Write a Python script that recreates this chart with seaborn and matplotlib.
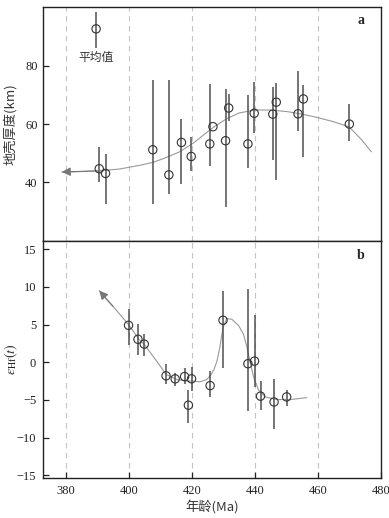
import numpy as np
import pandas as pd
import matplotlib
matplotlib.use("Agg")
import matplotlib.pyplot as plt
import seaborn as sns

# ---- panel a: crustal thickness ----
age_a = [390.6, 392.6, 407.6, 412.7, 416.7, 419.8, 425.7, 426.7, 430.7, 431.7,
         437.8, 439.8, 445.7, 446.8, 453.7, 455.4, 470.0]
thick = [44.7, 43.1, 51.2, 42.6, 53.7, 48.9, 53.2, 59.1, 54.3, 65.5,
         53.2, 63.7, 63.4, 67.5, 63.5, 68.6, 60.0]
thick_lo = [40.2, 32.6, 32.6, 36.0, 39.4, 43.9, 45.6, 59.1, 31.6, 61.0,
            45.1, 57.0, 47.7, 40.8, 57.6, 48.6, 54.2]
thick_hi = [52.2, 49.7, 75.1, 75.1, 61.6, 55.4, 73.7, 59.1, 72.0, 70.3,
            70.0, 74.5, 72.6, 74.2, 78.0, 73.4, 66.8]

# mean value marker
mean_age = [389.6]
mean_thick = [92.6]
mean_lo = [86.0]
mean_hi = [98.3]

# trend curve, first point is arrow tip
curve_a_x = [378.7, 383.0, 391.0, 397.0, 403.6, 408.0, 412.0, 416.3, 420.5, 424.0,
             427.0, 431.0, 435.0, 440.0, 445.0, 450.0, 455.0, 460.0, 465.0, 470.0,
             474.0, 477.0]
curve_a_y = [43.6, 43.65, 44.0, 44.6, 45.9, 47.0, 48.6, 50.6, 53.5, 56.5,
             59.0, 61.8, 63.8, 64.8, 64.8, 64.3, 63.4, 62.2, 60.8, 59.0,
             54.5, 50.5]

# ---- panel b: eHf(t) ----
age_b = [399.9, 402.9, 404.9, 411.8, 414.7, 417.7, 418.9, 419.9, 425.8, 429.9,
         437.8, 439.9, 441.8, 446.1, 450.1]
ehf = [4.9, 3.05, 2.4, -1.8, -2.2, -1.9, -5.7, -2.2, -3.1, 5.57,
       -0.2, 0.15, -4.5, -5.27, -4.6]
ehf_lo = [2.35, 0.93, 0.84, -2.9, -3.1, -2.9, -8.1, -3.85, -4.6, -0.7,
          -6.5, -3.3, -6.4, -8.8, -5.8]
ehf_hi = [7.1, 5.04, 3.8, -0.27, -1.4, -0.76, -3.7, -0.6, -1.15, 9.4,
          9.65, 6.24, -2.5, -2.2, -3.7]

curve_b_x = [390.6, 393.0, 395.0, 399.9, 403.1, 405.0, 408.9, 411.8, 415.2, 418.4,
             420.5, 422.6, 424.7, 426.0, 427.0, 428.0, 428.8, 429.9, 431.1, 432.7,
             434.8, 436.4, 437.5, 438.5, 439.6, 441.2, 443.3, 447.0, 451.2, 456.5]
curve_b_y = [9.5, 8.3, 7.4, 5.0, 3.1, 2.3, 0.1, -1.6, -2.3, -2.5,
             -2.5, -2.6, -2.3, -1.7, -1.0, 0.2, 1.8, 4.6, 5.8, 5.7,
             4.9, 3.7, 2.0, 0.0, -1.95, -3.7, -4.6, -4.95, -4.95, -4.7]

grid_ages = [380, 400, 420, 440, 460]

sns.set_theme(style="ticks")
plt.rcParams['font.family'] = ['Liberation Serif', 'Noto Sans CJK SC']
plt.rcParams['mathtext.fontset'] = 'stix'
plt.rcParams['axes.unicode_minus'] = True

fig = plt.figure(figsize=(3.89, 5.18), dpi=100)
ax1 = fig.add_axes([0.111, 0.535, 0.868, 0.451])
ax2 = fig.add_axes([0.111, 0.0766, 0.868, 0.4584], sharex=ax1)

line_col = '#999999'
pt_col = '#333333'
bar_col = '#505050'

def draw_panel(ax, x, y, lo, hi, cx, cy):
    for g in grid_ages:
        ax.axvline(g, color='#c4c4c4', lw=0.8, ls=(0, (5, 4)), zorder=0)
    curve = pd.DataFrame({'x': cx, 'y': cy})
    sns.lineplot(data=curve, x='x', y='y', sort=False, color=line_col, lw=0.8, ax=ax)
    ax.annotate('', xy=(cx[0], cy[0]), xytext=(cx[2], cy[2]),
                arrowprops=dict(arrowstyle='-|>', color='#777777', lw=0.8,
                                mutation_scale=13, shrinkA=0, shrinkB=0))
    ax.vlines(x, lo, hi, color=bar_col, lw=1.1, zorder=2)
    pts = pd.DataFrame({'x': x, 'y': y})
    sns.scatterplot(data=pts, x='x', y='y', marker='o', s=36, facecolor='none',
                    edgecolor=pt_col, linewidth=0.8, ax=ax, zorder=3)
    for sp in ax.spines.values():
        sp.set_visible(True)
        sp.set_color('#222222')
        sp.set_linewidth(1.0)
    ax.set_xlabel('')
    ax.set_ylabel('')

draw_panel(ax1, age_a, thick, thick_lo, thick_hi, curve_a_x, curve_a_y)
ax1.vlines(mean_age, mean_lo, mean_hi, color=bar_col, lw=1.1, zorder=2)
sns.scatterplot(x=mean_age, y=mean_thick, marker='o', s=36, facecolor='none',
                edgecolor=pt_col, linewidth=0.8, ax=ax1, zorder=3)
ax1.text(389.6, 82.7, '平均值', ha='center', va='center', fontsize=8.5, color='#333333',
         family=['Noto Sans CJK SC'])
ax1.text(0.941, 0.945, 'a', transform=ax1.transAxes, fontsize=10, fontweight='bold',
         ha='center', va='center')

draw_panel(ax2, age_b, ehf, ehf_lo, ehf_hi, curve_b_x, curve_b_y)
ax2.text(0.941, 0.94, 'b', transform=ax2.transAxes, fontsize=10, fontweight='bold',
         ha='center', va='center')

ax1.set_xlim(372.8, 480)
ax1.set_ylim(20, 100)
ax1.set_yticks([40, 60, 80])
ax1.tick_params(axis='x', bottom=False, labelbottom=False)
ax1.tick_params(axis='y', direction='in', length=4, width=0.9, labelsize=9, pad=4, colors='#222222')
ax1.set_ylabel('地壳厚度(km)', fontsize=9.5, color='#333333',
               family=['Noto Sans CJK SC'])
ax1.yaxis.set_label_coords(-0.078, 0.5)

ax2.set_ylim(-15.4, 16.1)
ax2.set_yticks([15, 10, 5, 0, -5, -10, -15])
ax2.set_xticks([380, 400, 420, 440, 460, 480])
ax2.tick_params(axis='both', direction='in', length=4, width=0.9, labelsize=9, pad=5, colors='#222222')
ax2.set_ylabel(r'$\varepsilon_{\rm Hf}(t)$', fontsize=10)
ax2.yaxis.set_label_coords(-0.068, 0.5)
ax2.set_xlabel('年龄(Ma)', fontsize=9.5, labelpad=2, color='#333333',
               family=['Noto Sans CJK SC', 'Liberation Serif'])

fig.savefig('out.png', dpi=100)
